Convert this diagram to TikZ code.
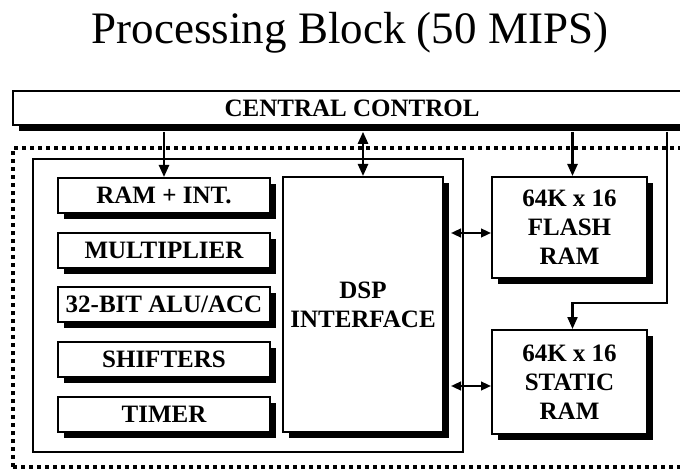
\documentclass[tikz,border=0pt]{standalone}
\usepackage{fontspec}
\setmainfont{Liberation Serif}
\usetikzlibrary{arrows.meta,shadows,calc}
\begin{document}
\begin{tikzpicture}[x=0.75pt,y=-0.75pt,
  lbl/.style={font=\bfseries\fontsize{18.75}{21.75}\selectfont, align=center},
  blk/.style={lbl, draw=black, line width=1.5pt, fill=white, inner sep=0pt,
    drop shadow={shadow xshift=4.8pt, shadow yshift=-4.8pt, fill=black, opacity=1}},
  sblk/.style={blk, minimum width=159pt, minimum height=26.25pt},
  arr/.style={line width=1.8pt, -{Triangle[length=9pt,width=7.5pt]}},
  barr/.style={line width=1.6pt, {Triangle[length=7.5pt,width=6.5pt]}-{Triangle[length=7.5pt,width=6.5pt]}},
  dbarr/.style={line width=1.8pt, {Triangle[length=9pt,width=7.5pt]}-{Triangle[length=9pt,width=7.5pt]}},
  dotline/.style={line width=3pt, dash pattern=on 3pt off 3pt}
]
\useasboundingbox (0,0) rectangle (680,470);
% title
\node[anchor=base, font=\fontsize{33.75}{40}\selectfont, inner sep=0pt] (title) at (350,44) {Processing Block (50 MIPS)};
% dotted region and inner frame
\draw[dotline] (13,467) -- (13,148) -- (700,148);
\draw[dotline] (13,467) -- (700,467);
\draw[line width=0.8pt] (33,159) rectangle (463,452);
% central control
\node[blk, line width=1.2pt, minimum width=508.5pt, minimum height=25.5pt] (ctrl) at (352,108) {CENTRAL CONTROL};
\coordinate (ctrlb) at ($(ctrl.south)+(0,6)$);
% left column
\node[sblk] (ram) at (164,195.5) {RAM + INT.};
\node[sblk] (mul) at (164,250) {MULTIPLIER};
\node[sblk] (alu) at (164,304.5) {32-BIT ALU/ACC};
\node[sblk] (shf) at (164,359.5) {SHIFTERS};
\node[sblk] (tmr) at (164,414.5) {TIMER};
% DSP interface
\node[blk, minimum width=120pt, minimum height=191.25pt, text depth=-2pt] (dsp) at (363,304.5) {DSP\\[0.3pt]INTERFACE};
% memories
\node[blk, minimum width=116.25pt, minimum height=75.75pt, text depth=-4.5pt] (flash) at (569.5,227.5) {64K x 16\\FLASH\\RAM};
\node[blk, minimum width=116.25pt, minimum height=78pt, text depth=-4.5pt] (sram) at (569.5,382) {64K x 16\\STATIC\\RAM};
% connectors
\draw[arr] (ram.north |- ctrlb) -- (ram.north);
\draw[dbarr] (dsp.north |- ctrlb) -- (dsp.north);
\draw[arr] ($(flash.north |- ctrlb)+(3,0)$) -- ($(flash.north)+(3,0)$);
\coordinate (rt) at (667,303);
\draw[arr, line width=1.6pt] (rt |- ctrlb) -- (rt) -| ($(sram.north)+(3,0)$);
\coordinate (f1) at ($(flash.west)+(0,5.5)$);
\coordinate (s1) at ($(sram.west)+(0,4)$);
\draw[barr] ($(dsp.east |- f1)+(7,0)$) -- (f1);
\draw[barr] ($(dsp.east |- s1)+(7,0)$) -- (s1);
\end{tikzpicture}
\end{document}
